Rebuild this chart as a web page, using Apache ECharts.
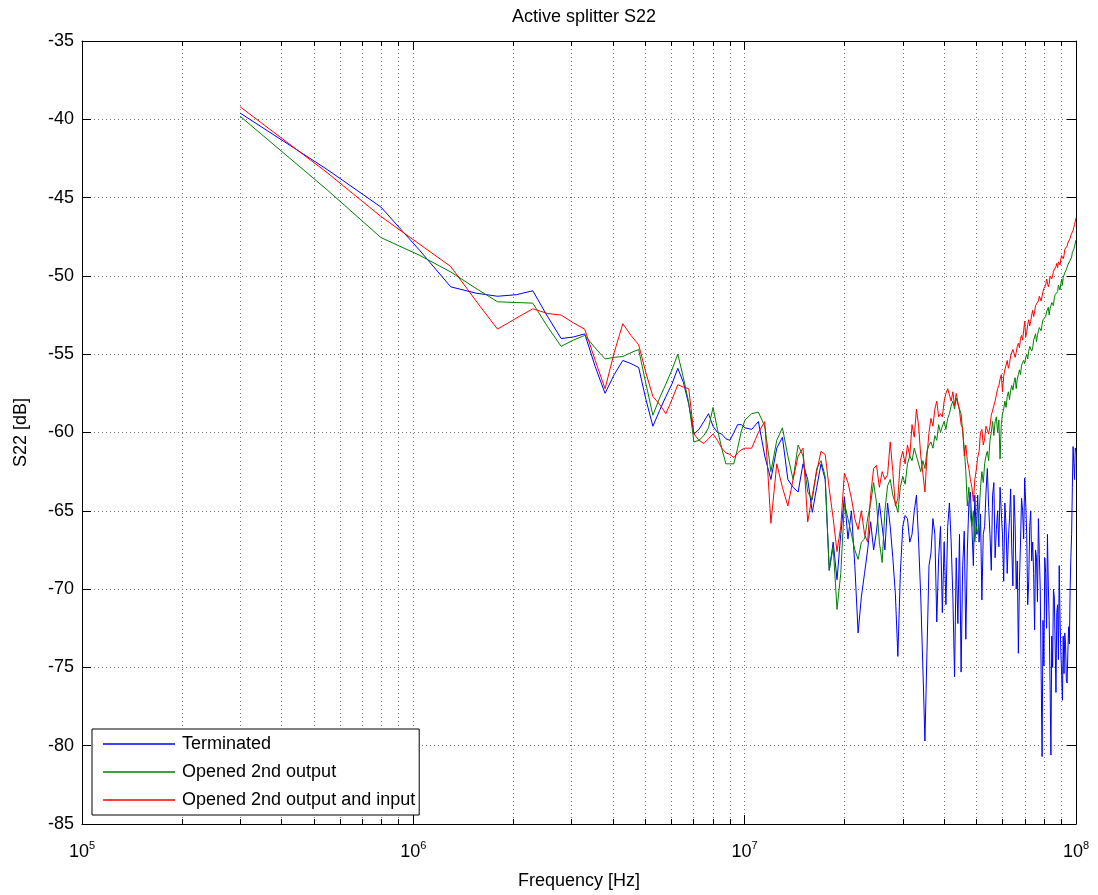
<!DOCTYPE html>
<html>
<head>
<meta charset="utf-8">
<title>Active splitter S22</title>
<script src="https://cdn.jsdelivr.net/npm/echarts@6/dist/echarts.min.js"></script>
<style>
  html, body { margin: 0; padding: 0; background: #fff; }
  #chart { width: 1098px; height: 895px; }
</style>
</head>
<body>
<div id="chart"></div>
<script>
// frequency points in MHz, split in bands so the value columns line up
const freqA = [
  0.300, 0.549, 0.798, 1.048, 1.297, 1.546, 1.795, 2.045, 2.294, 2.543,
  2.793, 3.042, 3.291, 3.540, 3.790, 4.039, 4.288, 4.538, 4.787, 5.036,
  5.285, 5.535, 5.784, 6.033, 6.283, 6.532, 6.781, 7.030, 7.280, 7.529,
  7.778, 8.028, 8.277, 8.526, 8.775, 9.025, 9.274, 9.523, 9.773, 10.02
];
const freqB = [10.5, 11, 11.5, 12, 12.5, 13, 13.5, 14, 14.5, 15, 15.5, 16, 16.5, 17, 17.5, 18, 18.5, 19, 19.5, 20];
const freqC = [
  20.5, 21, 21.5, 22, 22.5, 23, 23.5, 24, 24.5, 25,
  25.5, 26, 26.5, 27, 27.5, 28, 28.5, 29, 29.5, 30,
  30.5, 31, 31.5, 32, 32.5, 33, 33.5, 34, 34.5, 35,
  35.5, 36, 36.5, 37, 37.5, 38, 38.5, 39, 39.5, 40,
  40.5, 41, 41.5, 42, 42.5, 43, 43.5, 44, 44.5, 45,
  45.5, 46, 46.5, 47, 47.5, 48, 48.5, 49, 49.5, 50
];
const freqD = [
  50.5, 51, 51.5, 52, 52.5, 53, 53.5, 54, 54.5, 55,
  55.5, 56, 56.5, 57, 57.5, 58, 58.5, 59, 59.5, 60,
  60.5, 61, 61.5, 62, 62.5, 63, 63.5, 64, 64.5, 65,
  65.5, 66, 66.5, 67, 67.5, 68, 68.5, 69, 69.5, 70,
  70.5, 71, 71.5, 72, 72.5, 73, 73.5, 74, 74.5, 75,
  75.5, 76, 76.5, 77, 77.5, 78, 78.5, 79, 79.5, 80,
  80.5, 81, 81.5, 82, 82.5, 83, 83.5, 84, 84.5, 85,
  85.5, 86, 86.5, 87, 87.5, 88, 88.5, 89, 89.5, 90,
  90.5, 91, 91.5, 92, 92.5, 93, 93.5, 94, 94.5, 95,
  95.5, 96, 96.5, 97, 97.5, 98, 98.5, 99, 99.5, 100
];

// Terminated (blue), dB
const blueA = [
  -39.6, -43.2, -45.6, -48.4, -50.7, -51.1, -51.3, -51.2, -50.95, -52.6,
  -54.0, -53.9, -53.7, -55.8, -57.5, -56.3, -55.4, -55.6, -55.85, -57.9,
  -59.6, -58.6, -57.7, -56.9, -55.9, -56.8, -58.2, -60.1, -59.8, -59.3,
  -58.8, -59.6, -60.0, -60.1, -60.4, -60.5, -60.0, -59.5, -59.5, -59.7
];
const blueB = [-59.8, -59.3, -61.5, -63.0, -61.0, -60.3, -63.0, -63.5, -63.8, -62.0, -63.0, -65.1, -63.5, -62.0, -63.0, -68.8, -67.0, -69.4, -66.5, -64.1];
const blueC = [
  -66.8, -65.0, -68.5, -72.8, -70.5, -69.0, -67.5, -65.7, -67.5, -66.3,
  -64.5, -66.0, -67.5, -64.5, -66.0, -68.0, -70.3, -74.3, -69.0, -66.0,
  -65.3, -65.5, -67.0, -66.5, -65.0, -64.0, -67.0, -70.5, -75.0, -79.7,
  -74.0, -68.5, -67.7, -65.5, -66.5, -72.1, -68.0, -66.0, -71.5, -67.0,
  -71.0, -66.0, -64.5, -67.0, -70.5, -75.6, -68.0, -72.2, -66.5, -75.3,
  -68.5, -66.3, -73.2, -67.5, -64.5, -63.8, -66.0, -68.5, -64.0, -66.5
];
const blueD = [
  -64.0, -67.0, -65.2, -70.7, -66.5, -66.0, -63.8, -62.3, -64.8, -66.5,
  -68.8, -64.0, -63.2, -68.0, -66.2, -65.0, -67.3, -63.5, -65.1, -66.5,
  -69.5, -64.5, -66.0, -69.0, -66.8, -65.5, -63.6, -67.5, -69.8, -64.0,
  -65.8, -70.0, -68.2, -74.1, -69.5, -67.0, -64.2, -65.0, -66.8, -62.9,
  -64.5, -66.5, -71.0, -69.5, -66.0, -65.0, -68.2, -67.0, -69.0, -72.6,
  -67.5, -68.0, -70.8, -65.5, -67.8, -70.0, -75.5, -80.7, -72.0, -74.9,
  -68.0, -69.0, -72.5, -66.5, -69.8, -72.0, -76.0, -80.6, -73.0, -75.0,
  -70.0, -70.5, -73.5, -76.6, -71.5, -71.0, -74.5, -68.5, -72.0, -73.9,
  -75.5, -77.1, -73.0, -75.4, -72.8, -73.5, -75.8, -76.0, -74.0, -72.4,
  -73.5, -70.0, -68.0, -66.5, -63.5, -60.9, -62.0, -63.0, -61.0, -61.2
];

// Opened 2nd output (green), dB
const greenA = [
  -39.8, -44.5, -47.55, -48.7, -49.75, -50.8, -51.65, -51.7, -51.74, -53.25,
  -54.5, -54.1, -53.8, -54.6, -55.3, -55.2, -55.15, -54.9, -54.7, -56.9,
  -58.9, -57.8, -56.9, -56.0, -55.0, -56.5, -58.1, -60.6, -60.5, -60.2,
  -59.7, -58.4, -59.8, -61.0, -62.0, -62.0, -62.0, -61.0, -59.9, -59.2
];
const greenB = [-58.8, -58.7, -59.6, -62.5, -60.5, -59.7, -61.5, -63.0, -60.8, -61.5, -63.8, -64.3, -62.3, -61.8, -62.8, -68.8, -67.3, -71.3, -69.0, -64.5];
const greenC = [
  -65.5, -66.5, -67.5, -68.1, -67.0, -66.8, -65.5, -64.5, -63.2, -64.5,
  -67.0, -68.3, -65.0, -63.4, -63.0, -64.0, -64.5, -65.1, -63.5, -62.8,
  -63.3, -62.0, -61.5, -61.8, -61.0, -61.5, -62.0, -62.5, -61.8, -62.3,
  -61.2, -60.8, -60.6, -61.0, -60.2, -60.5, -59.5, -60.0, -59.6, -59.3,
  -59.8, -59.1, -58.8, -58.3, -58.0, -58.5, -57.8, -58.2, -58.5, -58.8,
  -60.0, -61.0, -62.5, -64.7, -63.5, -65.3, -66.0, -65.0, -67.0, -66.0
];
const greenD = [
  -66.5, -65.2, -63.5, -62.5, -63.2, -62.0, -61.5, -61.2, -61.8, -60.5,
  -60.0, -59.3, -60.2, -59.3, -59.0, -60.0, -59.2, -61.7, -59.5, -58.8,
  -58.5, -58.0, -58.4, -57.7, -57.4, -57.9, -57.3, -57.0, -57.3, -56.8,
  -56.5, -57.2, -56.6, -56.3, -56.0, -56.3, -55.7, -55.8, -55.4, -55.6,
  -55.2, -55.0, -55.3, -54.8, -54.5, -54.5, -54.8, -54.6, -54.1, -54.0,
  -53.7, -54.2, -53.8, -53.5, -53.3, -53.2, -53.5, -53.1, -52.8, -52.7,
  -52.9, -52.6, -52.3, -52.2, -52.0, -52.5, -52.1, -51.9, -51.7, -51.6,
  -51.9, -51.4, -51.2, -51.1, -51.3, -51.0, -50.6, -50.7, -50.9, -50.5,
  -50.2, -50.6, -50.1, -50.0, -49.8, -49.9, -49.6, -49.7, -49.3, -49.4,
  -49.2, -49.0, -48.9, -48.8, -48.5, -48.5, -48.3, -48.1, -47.9, -47.7
];

// Opened 2nd output and input (red), dB
const redA = [
  -39.2, -43.4, -46.2, -48.0, -49.4, -51.6, -53.4, -52.7, -52.1, -52.4,
  -52.5, -53.0, -53.4, -55.4, -57.2, -54.9, -53.05, -53.8, -54.4, -56.2,
  -57.7, -58.2, -58.8, -57.9, -56.95, -57.1, -57.2, -60.1, -60.5, -60.7,
  -60.4, -60.1, -60.5, -61.0, -61.3, -61.4, -61.6, -61.3, -61.1, -61.0
];
const redB = [-61.0, -60.0, -59.3, -65.8, -62.0, -63.5, -64.7, -63.0, -61.5, -61.0, -65.7, -64.0, -62.5, -61.2, -61.4, -63.6, -65.5, -67.6, -66.0, -62.6];
const redC = [
  -63.2, -64.2, -65.5, -66.2, -65.0, -66.5, -67.0, -64.0, -62.3, -62.1,
  -63.5, -62.5, -63.0, -62.7, -60.6, -62.5, -64.7, -64.2, -61.8, -61.2,
  -62.0, -60.8, -61.5, -59.5, -60.3, -58.5, -59.6, -61.5, -62.6, -63.8,
  -61.5, -60.0, -59.1, -59.6, -58.5, -58.0, -59.0, -58.8, -59.0, -58.0,
  -57.5, -57.2, -57.1, -58.0, -57.4, -58.3, -57.5, -57.6, -58.6, -59.5,
  -59.7, -61.5, -60.8, -61.8, -62.3, -63.0, -63.5, -64.4, -63.0, -62.4
];
const redD = [
  -61.6, -61.2, -60.0, -59.8, -60.8, -60.4, -59.6, -59.5, -60.1, -59.6,
  -58.9, -58.8, -58.3, -58.0, -57.6, -57.2, -57.0, -56.6, -56.3, -57.4,
  -56.4, -56.0, -55.7, -55.4, -55.9, -55.6, -55.1, -55.0, -54.7, -54.8,
  -55.2, -54.9, -54.5, -54.3, -54.6, -54.0, -53.8, -54.1, -53.5, -52.9,
  -53.9, -53.6, -53.1, -52.8, -53.2, -52.9, -52.5, -52.2, -52.6, -52.3,
  -51.9, -51.8, -52.0, -51.6, -51.3, -51.2, -51.6, -51.5, -51.0, -50.8,
  -50.9, -50.6, -50.2, -50.3, -50.7, -50.5, -50.0, -49.9, -50.2, -50.0,
  -49.7, -49.6, -49.8, -49.4, -49.2, -49.5, -49.1, -49.0, -49.3, -48.9,
  -48.7, -48.6, -48.9, -48.7, -48.3, -48.2, -48.4, -48.1, -47.9, -47.8,
  -48.0, -47.6, -47.4, -47.3, -47.5, -47.1, -46.9, -46.7, -46.8, -46.3
];

const freqMHz = freqA.concat(freqB, freqC, freqD);
const terminated = blueA.concat(blueB, blueC, blueD);
const opened2nd = greenA.concat(greenB, greenC, greenD);
const openedBoth = redA.concat(redB, redC, redD);

const seriesNames = ['Terminated', 'Opened 2nd output', 'Opened 2nd output and input'];
const seriesColors = ['#0000ff', '#008000', '#ff0000'];

// log grid lines between the decades
const minorGridHz = [];
[1e5, 1e6, 1e7].forEach(d => {
  for (let m = 2; m <= 9; m++) minorGridHz.push(m * d);
});

const FONT = '"Liberation Sans", Arial, Helvetica, sans-serif';
const GRID_COLOR = '#777';

function toPoints(vals) {
  return vals.map((v, i) => [freqMHz[i] * 1e6, v]);
}

function renderMinor(params, api) {
  const cs = params.coordSys;
  const x = Math.round(api.coord([api.value(0), api.value(1)])[0]) + 0.5;
  const top = cs.y, bottom = cs.y + cs.height;
  return {
    type: 'group',
    children: [
      { type: 'line', shape: { x1: x, y1: top, x2: x, y2: bottom },
        style: { stroke: GRID_COLOR, lineWidth: 1, lineDash: [1, 3] } },
      { type: 'line', shape: { x1: x, y1: bottom, x2: x, y2: bottom - 5 },
        style: { stroke: '#000', lineWidth: 1 } },
      { type: 'line', shape: { x1: x, y1: top, x2: x, y2: top + 5 },
        style: { stroke: '#000', lineWidth: 1 } }
    ]
  };
}

const chart = echarts.init(document.getElementById('chart'), null, { renderer: 'canvas' });

const logAxisBase = {
  type: 'log', logBase: 10, min: 1e5, max: 1e8, splitNumber: 3,
  axisLine: { onZero: false, lineStyle: { color: '#000', width: 1 } },
  axisTick: { inside: true, length: 9, lineStyle: { color: '#000' } }
};
const dbAxisBase = {
  type: 'value', min: -85, max: -35, interval: 5,
  axisLine: { show: true, onZero: false, lineStyle: { color: '#000', width: 1 } },
  axisTick: { show: true, inside: true, length: 9, lineStyle: { color: '#000' } }
};

chart.setOption({
  animation: false,
  backgroundColor: '#fff',
  textStyle: { fontFamily: FONT },
  title: {
    text: 'Active splitter S22',
    left: 579, top: 3, textAlign: 'center',
    textStyle: { fontFamily: FONT, fontSize: 18, fontWeight: 'normal', color: '#000' }
  },
  grid: { left: 82, right: 22, top: 41, bottom: 69 },
  legend: {
    orient: 'vertical', left: 92, bottom: 80,
    data: seriesNames,
    icon: 'rect', itemWidth: 72, itemHeight: 1.5, itemGap: 10,
    padding: [6, 4, 6, 11],
    backgroundColor: '#fff', borderColor: '#000', borderWidth: 1, borderRadius: 0,
    textStyle: { fontFamily: FONT, fontSize: 18, color: '#000', padding: [0, 0, 0, 2] }
  },
  xAxis: [
    Object.assign({}, logAxisBase, {
      position: 'bottom',
      axisLabel: {
        margin: 16, color: '#000',
        formatter: v => '{b|10}{e|' + Math.round(Math.log10(v)) + '}',
        rich: {
          b: { fontFamily: FONT, fontSize: 18, color: '#000' },
          e: { fontFamily: FONT, fontSize: 11, color: '#000', padding: [0, 0, 14, 0] }
        }
      },
      splitLine: { show: true, lineStyle: { color: GRID_COLOR, type: [1, 3] } },
      name: 'Frequency [Hz]', nameLocation: 'middle', nameGap: 48,
      nameTextStyle: { fontFamily: FONT, fontSize: 18, color: '#000' }
    }),
    Object.assign({}, logAxisBase, {
      position: 'top',
      axisLabel: { show: false },
      splitLine: { show: false }
    })
  ],
  yAxis: [
    Object.assign({}, dbAxisBase, {
      position: 'left',
      axisLabel: { margin: 8, color: '#000', fontFamily: FONT, fontSize: 18 },
      splitLine: { show: true, lineStyle: { color: GRID_COLOR, type: [1, 3] } },
      name: 'S22 [dB]', nameLocation: 'middle', nameGap: 52, nameRotate: 90,
      nameTextStyle: { fontFamily: FONT, fontSize: 18, color: '#000' }
    }),
    Object.assign({}, dbAxisBase, {
      position: 'right',
      axisLabel: { show: false },
      splitLine: { show: false }
    })
  ],
  series: [
    {
      type: 'custom', name: 'minor grid', silent: true,
      xAxisIndex: 0, yAxisIndex: 0,
      data: minorGridHz.map(f => [f, -60]),
      encode: { x: 0, y: 1 },
      renderItem: renderMinor
    },
    ...[terminated, opened2nd, openedBoth].map((vals, k) => ({
      type: 'line',
      name: seriesNames[k],
      xAxisIndex: 0, yAxisIndex: 0,
      data: toPoints(vals),
      showSymbol: false, symbol: 'none',
      lineStyle: { color: seriesColors[k], width: 1 },
      itemStyle: { color: seriesColors[k] },
      emphasis: { disabled: true }
    }))
  ]
});
</script>
</body>
</html>
